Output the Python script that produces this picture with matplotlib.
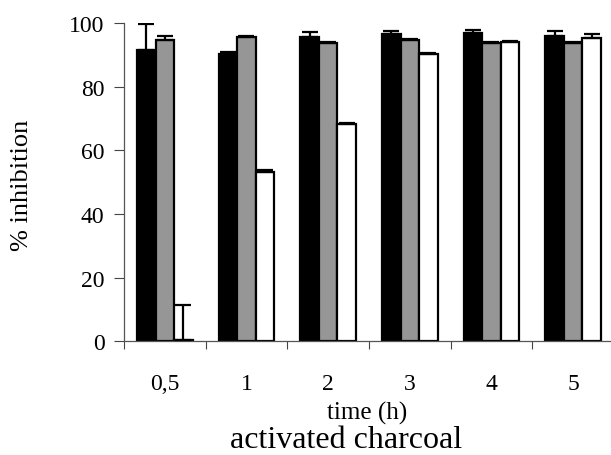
import matplotlib.pyplot as plt
import numpy as np

plt.rcParams['font.family'] = ['Liberation Serif', 'DejaVu Serif']

times = ['0,5', '1', '2', '3', '4', '5']
# three treatments per time point (black, grey, white bars)
black = [91.6, 90.3, 95.5, 96.6, 96.8, 96.0]
black_err = [8.0, 0.5, 1.6, 0.8, 1.0, 1.6]
grey = [94.7, 95.5, 93.7, 94.7, 93.7, 93.7]
grey_err = [1.3, 0.3, 0.3, 0.3, 0.3, 0.3]
white = [0.3, 53.3, 68.2, 90.3, 93.9, 95.3]
white_err = [11.2, 0.5, 0.3, 0.3, 0.5, 1.3]

fig = plt.figure(figsize=(6.11, 4.56), dpi=100)
ax = fig.add_axes([124 / 611, 113.7 / 456, 490 / 611, 318.3 / 456])

x = np.arange(len(times))
w = 0.226
series = [(black, black_err, 'black'), (grey, grey_err, '#969696'), (white, white_err, 'white')]
for i, (vals, errs, col) in enumerate(series):
    pos = x + (i - 1) * w
    ax.bar(pos, vals, width=w, color=col, edgecolor='black', linewidth=1.6, zorder=2)
    ax.errorbar(pos, vals, yerr=[np.zeros(len(errs)), errs], fmt='none',
                ecolor='black', elinewidth=1.6, capsize=5.5, capthick=1.6, zorder=3)

ax.set_xlim(-0.5, 5.5)
ax.set_ylim(0, 100)
ax.set_yticks([0, 20, 40, 60, 80, 100])
ax.tick_params(axis='y', direction='out', length=7, width=0.8, labelsize=17, pad=7, color='#444444')
ax.set_xticks(x)
ax.set_xticklabels(times)
ax.set_xticks(np.arange(-0.5, 5.5, 1), minor=True)
ax.tick_params(axis='x', which='major', length=0, labelsize=17, pad=23)
ax.tick_params(axis='x', which='minor', direction='out', length=6, width=0.8, color='#444444')

for s in ['top', 'right']:
    ax.spines[s].set_visible(False)
for s in ['left', 'bottom']:
    ax.spines[s].set_color('#555555')
    ax.spines[s].set_linewidth(0.9)

fig.text(367 / 611, 1 - 413 / 456, 'time (h)', ha='center', va='center', fontsize=18)
fig.text(346 / 611, 1 - 441 / 456, 'activated charcoal', ha='center', va='center', fontsize=23)
fig.text(22 / 611, 1 - 185 / 456, '% inhibition', ha='center', va='center', rotation=90, fontsize=19)

fig.savefig('out.png', dpi=100)
